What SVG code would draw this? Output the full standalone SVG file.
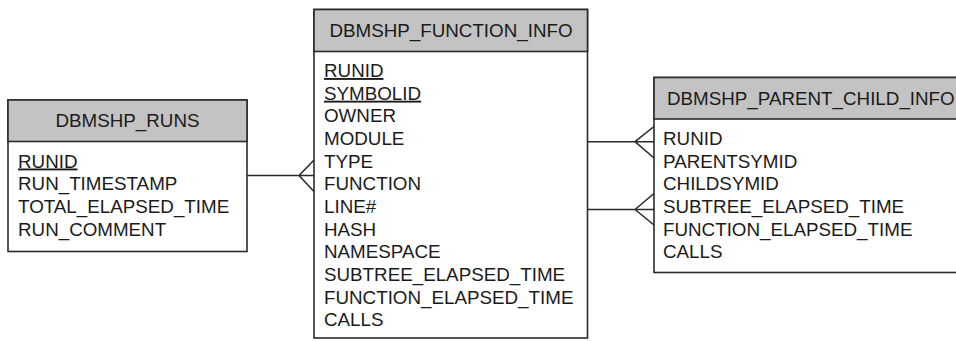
<svg xmlns="http://www.w3.org/2000/svg" width="956" height="341" viewBox="0 0 956 341">
  <style>
    .box { fill: #ffffff; stroke: #2b2b2b; stroke-width: 1.6; }
    .head { fill: #c3c3c3; stroke: #2b2b2b; stroke-width: 1.6; }
    .t { font-family: "Liberation Sans", Arial, sans-serif; font-size: 18.8px; fill: #1a1a1a; }
    .h { text-anchor: middle; }
    .pk { text-decoration: underline; }
    .conn { fill: none; stroke: #2b2b2b; stroke-width: 1.6; }
  </style>
  <rect width="956" height="341" fill="#ffffff"/>

  <!-- DBMSHP_RUNS table -->
  <g id="dbmshp_runs">
    <rect class="box" x="8" y="100" width="239" height="151.5"/>
    <rect class="head" x="8" y="100" width="239" height="41.5"/>
    <text class="t h" x="127.5" y="126.5">DBMSHP_RUNS</text>
    <text class="t pk" x="18" y="167.5">RUNID</text>
    <text class="t" x="18" y="190.2">RUN_TIMESTAMP</text>
    <text class="t" x="18" y="212.9">TOTAL_ELAPSED_TIME</text>
    <text class="t" x="18" y="235.6">RUN_COMMENT</text>
  </g>

  <!-- DBMSHP_FUNCTION_INFO table -->
  <g id="dbmshp_function_info">
    <rect class="box" x="314" y="9.5" width="273.5" height="328.5"/>
    <rect class="head" x="314" y="9.5" width="273.5" height="42"/>
    <text class="t h" x="451" y="36.5">DBMSHP_FUNCTION_INFO</text>
    <text class="t pk" x="324" y="77">RUNID</text>
    <text class="t pk" x="324" y="99.7">SYMBOLID</text>
    <text class="t" x="324" y="122.3">OWNER</text>
    <text class="t" x="324" y="145">MODULE</text>
    <text class="t" x="324" y="167.6">TYPE</text>
    <text class="t" x="324" y="190.3">FUNCTION</text>
    <text class="t" x="324" y="213">LINE#</text>
    <text class="t" x="324" y="235.6">HASH</text>
    <text class="t" x="324" y="258.3">NAMESPACE</text>
    <text class="t" x="324" y="281">SUBTREE_ELAPSED_TIME</text>
    <text class="t" x="324" y="303.6">FUNCTION_ELAPSED_TIME</text>
    <text class="t" x="324" y="326.3">CALLS</text>
  </g>

  <!-- DBMSHP_PARENT_CHILD_INFO table (runs past the right edge) -->
  <g id="dbmshp_parent_child_info">
    <rect class="box" x="654" y="77.5" width="320" height="195"/>
    <rect class="head" x="654" y="77.5" width="320" height="41.5"/>
    <text class="t" x="667" y="104.5">DBMSHP_PARENT_CHILD_INFO</text>
    <text class="t" x="663" y="145">RUNID</text>
    <text class="t" x="663" y="167.7">PARENTSYMID</text>
    <text class="t" x="663" y="190.4">CHILDSYMID</text>
    <text class="t" x="663" y="213">SUBTREE_ELAPSED_TIME</text>
    <text class="t" x="663" y="235.7">FUNCTION_ELAPSED_TIME</text>
    <text class="t" x="663" y="258.4">CALLS</text>
  </g>

  <!-- one-to-many relationships, crow's foot on the many side -->
  <g id="connectors">
    <path class="conn" d="M247 175.5 H314 M299 175.5 L314 160 M299 175.5 L314 191.5"/>
    <path class="conn" d="M587.5 141.7 H654 M635 141.7 L654 126.5 M635 141.7 L654 158"/>
    <path class="conn" d="M587.5 209.5 H654 M635 209.5 L654 193.5 M635 209.5 L654 225"/>
  </g>
</svg>
